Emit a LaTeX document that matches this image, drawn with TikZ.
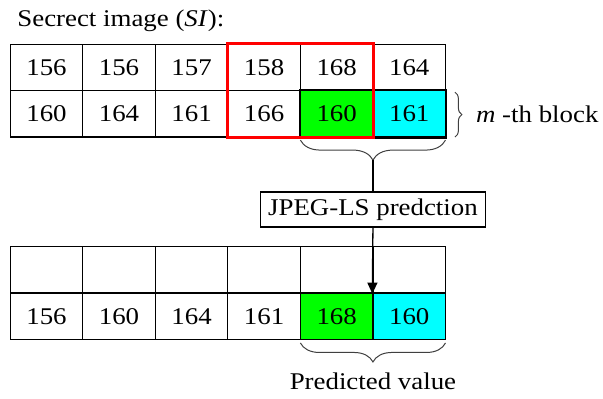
\documentclass[tikz,border=0pt]{standalone}
\usepackage{fontspec}
\setmainfont{Liberation Serif}[FakeStretch=1.12]
\usetikzlibrary{decorations.pathreplacing}
\usetikzlibrary{arrows.meta}
\definecolor{blockgreen}{RGB}{0,255,0}
\definecolor{blockcyan}{RGB}{0,255,255}
\definecolor{blockred}{RGB}{255,0,0}

\begin{document}
\begin{tikzpicture}[scale=1.000000,x=1pt,y=1pt,
  cell/.style={draw,line width=1.3pt,minimum width=72.6pt,minimum height=46.5pt,inner sep=0pt,font=\fontsize{24}{28}\selectfont},
  txt/.style={font=\fontsize{24}{28}\selectfont,inner sep=0pt}]
\filldraw[color=white] (0.000000,0.000000) rectangle (603.000000,398.000000);
\useasboundingbox (0.000000,0.000000) rectangle (603.000000,398.000000);
% Title
\node[txt,anchor=base west] (title) at (17.000000,372.000000) {Secrect image (\textit{SI}):};
% Drawing secret image block: row 1
\node[cell] (t11) at (46.300000,330.750000) {156};
\node[cell] (t12) at (118.900000,330.750000) {156};
\node[cell] (t13) at (191.500000,330.750000) {157};
\node[cell] (t14) at (264.100000,330.750000) {158};
\node[cell] (t15) at (336.700000,330.750000) {168};
\node[cell] (t16) at (409.300000,330.750000) {164};
% Row 2
\node[cell] (t21) at (46.300000,284.250000) {160};
\node[cell] (t22) at (118.900000,284.250000) {164};
\node[cell] (t23) at (191.500000,284.250000) {161};
\node[cell] (t24) at (264.100000,284.250000) {166};
\node[cell,fill=blockgreen] (t25) at (336.700000,284.250000) {160};
\node[cell,fill=blockcyan] (t26) at (409.300000,284.250000) {161};
% Thick frame and red window
\draw[line width=2.4pt] (t25.north west) rectangle (t26.south east);
\draw[color=blockred,line width=3.000000pt] (t14.north west) rectangle (t25.south east);
% m-th block brace
\draw[decorate,decoration={brace,amplitude=7.000000pt},line width=1pt,color=black!75] (455.000000,306.000000) -- (455.000000,261.000000);
\node[txt,anchor=west] (mth) at (476.000000,284.000000) {\textit{m} -th block};
% Brace below the block
\draw[decorate,decoration={brace,amplitude=20.000000pt},line width=1pt,color=black!75] (445.600000,258.000000) -- (300.400000,258.000000);
\coordinate (tipA) at (373.000000,238.000000);
% Prediction box
\node[draw,line width=1.3pt,minimum width=225pt,minimum height=35pt,txt] (pred) at (373.000000,188.500000) {JPEG-LS predction};
\draw[line width=1.3pt] (tipA) -- (pred.north);
% Drawing predicted block: row 1
\node[cell] (b11) at (46.300000,128.250000) {};
\node[cell] (b12) at (118.900000,128.250000) {};
\node[cell] (b13) at (191.500000,128.250000) {};
\node[cell] (b14) at (264.100000,128.250000) {};
\node[cell] (b15) at (336.700000,128.250000) {};
\node[cell] (b16) at (409.300000,128.250000) {};
% Row 2
\node[cell] (b21) at (46.300000,81.750000) {156};
\node[cell] (b22) at (118.900000,81.750000) {160};
\node[cell] (b23) at (191.500000,81.750000) {164};
\node[cell] (b24) at (264.100000,81.750000) {161};
\node[cell,fill=blockgreen] (b25) at (336.700000,81.750000) {168};
\node[cell,fill=blockcyan] (b26) at (409.300000,81.750000) {160};
% Arrow into the predicted block
\draw[line width=1.3pt,-{Triangle[length=11pt,width=10pt]}] (pred.south) -- (b16.south west);
% Predicted value brace
\draw[decorate,decoration={brace,amplitude=19.000000pt},line width=1pt,color=black!75] (445.600000,55.000000) -- (300.400000,55.000000);
\node[txt] (predval) at (373.000000,17.000000) {Predicted value};
\end{tikzpicture}
\end{document}
